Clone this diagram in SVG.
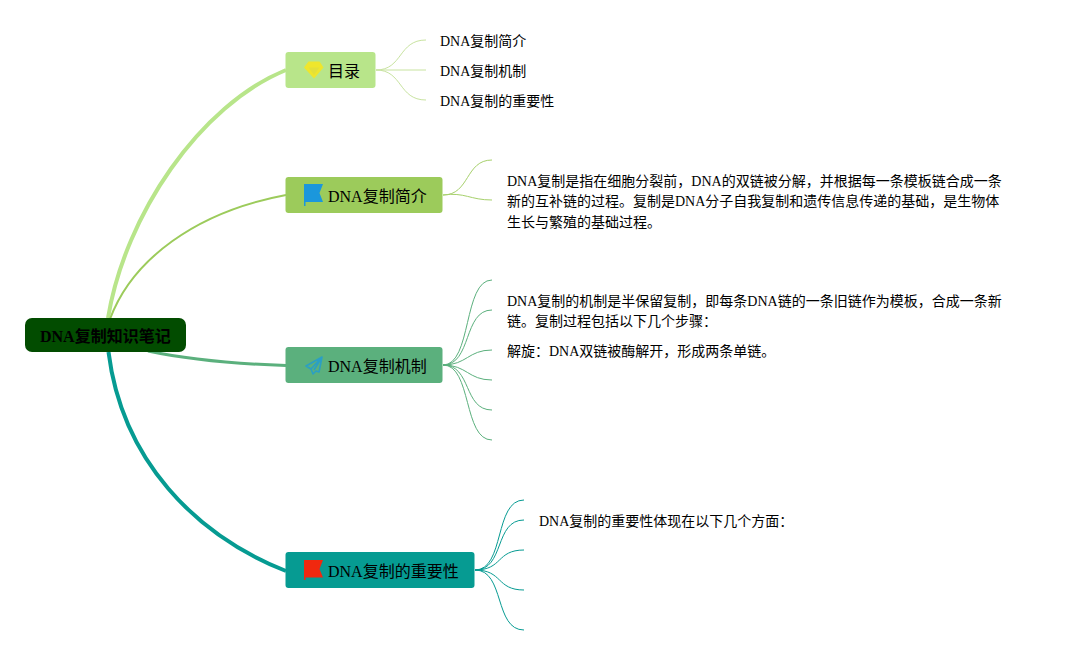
<svg xmlns="http://www.w3.org/2000/svg" width="1067" height="655" viewBox="0 0 1067 655">
<style>
text{font-family:"Liberation Serif","Noto Sans CJK SC",serif;fill:#000}
.b{font-size:16px}
.l{font-size:14px}
.r{font-size:16px;font-weight:bold}
</style>
<rect width="1067" height="655" fill="#fff"/>
<g id="connectors" fill="none">
<path d="M108 318C125 215 200 105 286 70" stroke="#b8e58a" stroke-width="4"/>
<path d="M110 319C132 260 195 212 286 195" stroke="#9ccb5b" stroke-width="2"/>
<path d="M148 351C190 360 240 364 286 365.500" stroke="#5bb07d" stroke-width="3"/>
<path d="M108.500 352C122 460 195 535 286 571" stroke="#069b92" stroke-width="4"/>
<g stroke="#c8e3a0" stroke-width="1">
<path d="M376 70C403 70 398 40 426 40"/>
<path d="M376 70L426 70"/>
<path d="M376 70C403 70 398 100 426 100"/>
</g>
<g stroke="#a6d06b" stroke-width="1">
<path d="M443 195C470 195 465 160 492 160"/>
<path d="M443 195C465 192 470 200 492 200"/>
</g>
<g stroke="#5bb07d" stroke-width="1">
<path d="M443 365C472 365 463 280 492 280"/>
<path d="M443 365C472 365 463 310 492 310"/>
<path d="M443 365C467 365 468 350 492 350"/>
<path d="M443 365C467 365 468 380 492 380"/>
<path d="M443 365C472 365 463 410 492 410"/>
<path d="M443 365C472 365 463 440 492 440"/>
</g>
<g stroke="#069b92" stroke-width="1">
<path d="M475 570C505 570 494 500 524 500"/>
<path d="M475 570C505 570 494 520 524 520"/>
<path d="M475 570C503 570 496 550 524 550"/>
<path d="M475 570C503 570 496 590 524 590"/>
<path d="M475 570C505 570 494 630 524 630"/>
</g>
</g>
<g id="root">
<rect x="25" y="318" width="161" height="34" rx="7" fill="#024c00"/>
<text class="r" x="40" y="342">DNA复制知识笔记</text>
</g>
<g id="node-toc">
<rect x="285.500" y="52" width="90" height="36" rx="3" fill="#b8e58a"/>
<path d="M308.500 61.500H319.500L323.500 67.500L314 78.500L304 67.500Z" fill="#efe62c"/>
<path d="M308.500 67.500H319.500L314 75Z" fill="#e3e03a"/>
<text class="b" x="328" y="77">目录</text>
</g>
<g id="node-intro">
<rect x="285.500" y="177" width="157" height="36" rx="3" fill="#9ccb5b"/>
<path d="M304 184H323L319.500 193L323 202H305.500V206H304Z" fill="#1b97dc"/>
<text class="b" x="328" y="202">DNA复制简介</text>
</g>
<g id="node-mech">
<rect x="285.500" y="347" width="157" height="36" rx="3" fill="#5bb07d"/>
<path d="M322 357L306 366L311 369L313 374L316 371L319 372ZM311 369L322 357L314 370" fill="none" stroke="#2b9fc4" stroke-width="1.600" stroke-linejoin="round"/>
<text class="b" x="328" y="372">DNA复制机制</text>
</g>
<g id="node-importance">
<rect x="285.500" y="552" width="189" height="36" rx="3" fill="#069b92"/>
<path d="M304 560H323L319.500 569L323 577.500H305.500V580H304Z" fill="#f0280f"/>
<text class="b" x="328" y="577">DNA复制的重要性</text>
</g>
<g id="toc-leaves">
<text class="l" x="440" y="46">DNA复制简介</text>
<text class="l" x="440" y="76">DNA复制机制</text>
<text class="l" x="440" y="106">DNA复制的重要性</text>
</g>
<g id="intro-leaf">
<text class="l" x="507" y="186">DNA复制是指在细胞分裂前，DNA的双链被分解，并根据每一条模板链合成一条</text>
<text class="l" x="507" y="206">新的互补链的过程。复制是DNA分子自我复制和遗传信息传递的基础，是生物体</text>
<text class="l" x="507" y="227">生长与繁殖的基础过程。</text>
</g>
<g id="mech-leaves">
<text class="l" x="507" y="306">DNA复制的机制是半保留复制，即每条DNA链的一条旧链作为模板，合成一条新</text>
<text class="l" x="507" y="326">链。复制过程包括以下几个步骤：</text>
<text class="l" x="507" y="356">解旋：DNA双链被酶解开，形成两条单链。</text>
</g>
<g id="importance-leaf">
<text class="l" x="539" y="526">DNA复制的重要性体现在以下几个方面：</text>
</g>
</svg>
